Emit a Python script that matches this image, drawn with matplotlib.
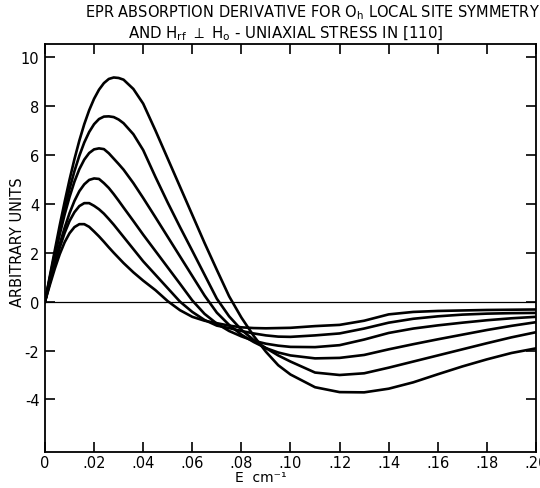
import matplotlib
matplotlib.use('Agg')
import matplotlib.pyplot as plt

# E (cm^-1) sample points
E = [0, .002, .004, .006, .008, .010, .012, .014, .016, .018, .020, .022,
     .024, .026, .028, .030, .032, .036, .040, .045,
     .050, .055, .060, .065, .070, .075, .080, .085, .090, .095, .100,
     .110, .120, .130, .140, .150, .160, .170, .180, .190, .200]

c1 = [0, 1.06, 2.10, 3.12, 4.08, 4.99, 5.83, 6.59, 7.26, 7.83, 8.30, 8.67,
      8.94, 9.11, 9.17, 9.15, 9.08, 8.70, 8.10, 7.00,
      5.85, 4.70, 3.55, 2.40, 1.30, 0.22, -0.65, -1.40, -2.05, -2.60, -2.98,
      -3.50, -3.70, -3.71, -3.56, -3.30, -2.97, -2.65, -2.36, -2.10, -1.91]
c2 = [0, 0.99, 1.97, 2.91, 3.79, 4.61, 5.34, 5.97, 6.51, 6.94, 7.26, 7.47,
      7.57, 7.58, 7.55, 7.45, 7.30, 6.85, 6.20, 5.10,
      4.05, 3.05, 2.08, 1.10, 0.12, -0.60, -1.15, -1.57, -1.90, -2.20, -2.45,
      -2.90, -3.00, -2.93, -2.70, -2.45, -2.20, -1.95, -1.70, -1.46, -1.25]
c3 = [0, 0.95, 1.87, 2.75, 3.56, 4.28, 4.91, 5.42, 5.81, 6.08, 6.23, 6.27,
      6.24, 6.07, 5.85, 5.63, 5.40, 4.85, 4.24, 3.45,
      2.65, 1.85, 1.05, 0.25, -0.45, -0.95, -1.35, -1.65, -1.90, -2.08, -2.20,
      -2.32, -2.30, -2.18, -1.95, -1.74, -1.54, -1.35, -1.16, -0.99, -0.84]
c4 = [0, 0.81, 1.60, 2.35, 3.02, 3.62, 4.12, 4.52, 4.80, 4.98, 5.04, 5.02,
      4.85, 4.65, 4.40, 4.13, 3.85, 3.30, 2.74, 2.07,
      1.40, 0.73, 0.05, -0.50, -0.90, -1.20, -1.42, -1.60, -1.72, -1.80, -1.85,
      -1.86, -1.78, -1.55, -1.28, -1.10, -0.97, -0.86, -0.76, -0.68, -0.62]
c5 = [0, 0.78, 1.52, 2.21, 2.81, 3.30, 3.66, 3.91, 4.03, 4.03, 3.92, 3.78,
      3.60, 3.38, 3.15, 2.90, 2.65, 2.15, 1.65, 1.10,
      0.55, 0.00, -0.42, -0.75, -0.98, -1.08, -1.20, -1.30, -1.38, -1.43, -1.44,
      -1.38, -1.30, -1.10, -0.86, -0.70, -0.60, -0.53, -0.49, -0.47, -0.46]
c6 = [0, 0.69, 1.35, 1.94, 2.43, 2.80, 3.05, 3.17, 3.17, 3.06, 2.87, 2.67,
      2.45, 2.22, 2.00, 1.79, 1.58, 1.20, 0.86, 0.47,
      0.02, -0.35, -0.62, -0.78, -0.88, -0.98, -1.05, -1.08, -1.09, -1.08, -1.07,
      -1.00, -0.95, -0.78, -0.52, -0.42, -0.38, -0.36, -0.34, -0.33, -0.32]
curves = [c1, c2, c3, c4, c5, c6]

xticks = [0, .02, .04, .06, .08, .10, .12, .14, .16, .18, .20]
xticklabels = ['0', '.02', '.04', '.06', '.08', '.10', '.12', '.14', '.16', '.18', '.20']
yticks = [-4, -2, 0, 2, 4, 6, 8, 10]
yticklabels = ['-4', '-2', '0', '2', '4', '6', '8', '10']

fig = plt.figure(figsize=(5.4, 4.89), dpi=100)
ax = fig.add_axes([0.0833, 0.0736, 0.9093, 0.8344])

ax.axhline(0, color='black', lw=0.9)
for c in curves:
    ax.plot(E, c, color='black', lw=1.9, solid_joinstyle='round')

ax.set_xlim(0, 0.2)
ax.set_ylim(-6.15, 10.54)
ax.set_xticks(xticks)
ax.set_xticklabels(xticklabels, fontsize=10.5)
ax.set_yticks(yticks)
ax.set_yticklabels(yticklabels, fontsize=10.5)
ax.tick_params(direction='in', length=7, width=1.2, top=True, right=True,
               color='black', pad=4)
ax.tick_params(axis='x', pad=2)
for s in ax.spines.values():
    s.set_linewidth(1.3)

ax.set_xlabel('E  cm\u207b\u00b9', fontsize=10)
ax.xaxis.set_label_coords(0.44, -0.044)
ax.set_ylabel('ARBITRARY UNITS', fontsize=10.5)
ax.yaxis.set_label_coords(-0.041, 0.517)

fig.text(0.578, 0.975, r'EPR ABSORPTION DERIVATIVE FOR O$_\mathregular{h}$ LOCAL SITE SYMMETRY',
         ha='center', va='center', fontsize=10.5)
fig.text(0.53, 0.93, r'AND H$_\mathregular{rf}$ $\perp$ H$_\mathregular{o}$ - UNIAXIAL STRESS IN [110]',
         ha='center', va='center', fontsize=10.8)

fig.savefig('out.png', dpi=100)
